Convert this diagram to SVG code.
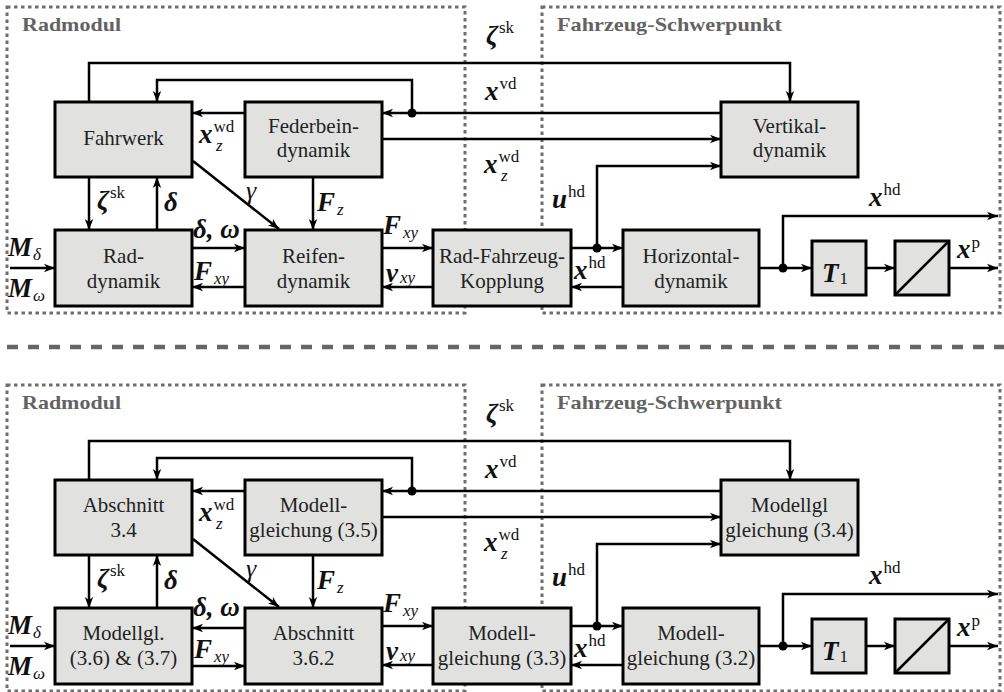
<svg xmlns="http://www.w3.org/2000/svg" width="1004" height="692" viewBox="0 0 1004 692">
<defs>
<marker id="ah" markerUnits="userSpaceOnUse" markerWidth="12" markerHeight="10" refX="11" refY="5" orient="auto">
<path d="M0,0.8 L11,5 L0,9.2 L3,5 z" fill="#000"/>
</marker>
<style>
.frame{fill:none;stroke:#6e6e6e;stroke-width:3;stroke-dasharray:3.5 3.5}
.sep{fill:none;stroke:#666;stroke-width:4.5;stroke-dasharray:11 10}
.title{font-family:'Liberation Serif','DejaVu Serif','Noto Serif',serif;font-weight:bold;font-size:19px;fill:#636363}
.box{fill:#e1e2e0;stroke:#000;stroke-width:3}
.nt{font-family:'Liberation Serif','DejaVu Serif','Noto Serif',serif;font-size:21px;fill:#222;text-anchor:middle}
.c{fill:none;stroke:#000;stroke-width:2.5;marker-end:url(#ah)}
.l{fill:none;stroke:#000;stroke-width:2.5}
.dot{fill:#000}
.m{font-family:'Liberation Serif','DejaVu Serif','Noto Serif',serif;font-style:italic;font-weight:bold;font-size:27px;fill:#111}
.g{font-family:'Liberation Serif','DejaVu Serif','Noto Serif',serif;font-style:italic;font-weight:normal;font-size:26px;fill:#111}
.s{font-family:'Liberation Serif','DejaVu Serif','Noto Serif',serif;font-style:normal;font-weight:normal;font-size:17px;fill:#111}
.si{font-family:'Liberation Serif','DejaVu Serif','Noto Serif',serif;font-style:italic;font-weight:normal;font-size:17px;fill:#111}
</style>
</defs>
<rect width="1004" height="692" fill="#fff"/>

<!-- ===================== TOP HALF ===================== -->
<g id="top">
<rect class="frame" x="7" y="7" width="458" height="306"/>
<rect class="frame" x="542" y="7" width="458" height="306"/>
<text class="title" x="22" y="31" textLength="99" lengthAdjust="spacingAndGlyphs">Radmodul</text>
<text class="title" x="557" y="31" textLength="225" lengthAdjust="spacingAndGlyphs">Fahrzeug-Schwerpunkt</text>

<g id="fahrwerk"><rect class="box" x="55" y="102" width="137" height="75"/><text class="nt" x="123.5" y="145">Fahrwerk</text></g>
<g id="federbein"><rect class="box" x="245" y="102" width="137" height="75"/><text class="nt" x="313.5" y="133">Federbein-</text><text class="nt" x="313.5" y="157">dynamik</text></g>
<g id="raddynamik"><rect class="box" x="55" y="230" width="137" height="76"/><text class="nt" x="123.5" y="263">Rad-</text><text class="nt" x="123.5" y="288">dynamik</text></g>
<g id="reifen"><rect class="box" x="245" y="230" width="137" height="76"/><text class="nt" x="313.5" y="263">Reifen-</text><text class="nt" x="313.5" y="288">dynamik</text></g>
<g id="kopplung"><rect class="box" x="433" y="230" width="138" height="76"/><text class="nt" x="502" y="263">Rad-Fahrzeug-</text><text class="nt" x="502" y="288">Kopplung</text></g>
<g id="vertikal"><rect class="box" x="721" y="102" width="137" height="75"/><text class="nt" x="789.5" y="133">Vertikal-</text><text class="nt" x="789.5" y="157">dynamik</text></g>
<g id="horizontal"><rect class="box" x="623" y="230" width="136" height="76"/><text class="nt" x="691" y="263">Horizontal-</text><text class="nt" x="691" y="288">dynamik</text></g>
<g id="t1"><rect class="box" x="812" y="241" width="54" height="54"/><text class="m" x="822" y="282" font-size="33">T<tspan class="s" dy="2" dx="1" font-size="18">1</tspan></text></g>
<g id="integrator"><rect class="box" x="895" y="241" width="54" height="54"/><path class="l" d="M895,295 L949,241"/></g>

<g id="connectors-top">
<path class="c" d="M89,102 V63 H790 V102"/>
<path class="c" d="M412,113 V80 H157 V102"/>
<path class="c" d="M721,113 H382"/>
<circle class="dot" cx="412" cy="113" r="4.5"/>
<path class="c" d="M245,113 H192"/>
<path class="c" d="M382,139 H721"/>
<path class="c" d="M597,248 V166 H721"/>
<path class="c" d="M571,248 H623"/>
<circle class="dot" cx="597" cy="248" r="4.5"/>
<path class="c" d="M623,287 H571"/>
<path class="c" d="M759,268 H812"/>
<circle class="dot" cx="783" cy="268" r="4.5"/>
<path class="c" d="M783,268 V216 H998"/>
<path class="c" d="M866,268 H895"/>
<path class="c" d="M949,268 H998"/>
<path class="c" d="M89,177 V230"/>
<path class="c" d="M157,230 V177"/>
<path class="c" d="M193,161 L279,229"/>
<path class="c" d="M313,177 V230"/>
<path class="c" d="M192,248 H245"/>
<path class="c" d="M245,287 H192"/>
<path class="c" d="M382,248 H433"/>
<path class="c" d="M433,287 H382"/>
<path class="c" d="M10,268 H55"/>
</g>

<g id="labels-top">
<text class="m" x="486" y="44">ζ<tspan class="s" dy="-11" dx="1">sk</tspan></text>
<text class="m" x="485" y="100">x<tspan class="s" dy="-11" dx="1">vd</tspan></text>
<text class="m" x="484" y="173">x<tspan class="s" dy="-11" dx="1">wd</tspan></text><text class="si" x="501" y="181">z</text>
<text class="m" x="199" y="143">x<tspan class="s" dy="-11" dx="1">wd</tspan></text><text class="si" x="216" y="151">z</text>
<text class="m" x="97" y="209">ζ<tspan class="s" dy="-11" dx="1">sk</tspan></text>
<text class="m" x="164" y="211">δ</text>
<text class="g" x="246" y="199">γ</text>
<text class="m" x="317" y="211">F<tspan class="si" dy="4" dx="2">z</tspan></text>
<text class="m" x="193" y="238">δ, ω</text>
<text class="m" x="194" y="280">F<tspan class="si" dy="4" dx="2">xy</tspan></text>
<text class="m" x="383" y="234">F<tspan class="si" dy="4" dx="2">xy</tspan></text>
<text class="m" x="386" y="282">v<tspan class="si" dy="1" dx="2">xy</tspan></text>
<text class="m" x="8" y="256" font-size="30">M<tspan class="si" dy="4" dx="1" font-size="18">δ</tspan></text>
<text class="m" x="8" y="297" font-size="30">M<tspan class="si" dy="4" dx="1" font-size="18">ω</tspan></text>
<text class="m" x="574" y="279">x<tspan class="s" dy="-11" dx="1">hd</tspan></text>
<text class="m" x="552" y="208">u<tspan class="s" dy="-11" dx="1">hd</tspan></text>
<text class="m" x="869" y="206">x<tspan class="s" dy="-11" dx="1">hd</tspan></text>
<text class="m" x="957" y="258">x<tspan class="s" dy="-10" dx="1">p</tspan></text>
</g>
</g>

<!-- separator -->
<path class="sep" d="M7,347 H1004"/>

<!-- ===================== BOTTOM HALF ===================== -->
<g id="bottom" transform="translate(0,378)">
<rect class="frame" x="7" y="7" width="458" height="306"/>
<rect class="frame" x="542" y="7" width="458" height="306"/>
<text class="title" x="22" y="31" textLength="99" lengthAdjust="spacingAndGlyphs">Radmodul</text>
<text class="title" x="557" y="31" textLength="225" lengthAdjust="spacingAndGlyphs">Fahrzeug-Schwerpunkt</text>

<g id="abschnitt34"><rect class="box" x="55" y="102" width="137" height="75"/><text class="nt" x="123.5" y="134">Abschnitt</text><text class="nt" x="123.5" y="159">3.4</text></g>
<g id="modell35"><rect class="box" x="245" y="102" width="137" height="75"/><text class="nt" x="313.5" y="134">Modell-</text><text class="nt" x="313.5" y="159">gleichung (3.5)</text></g>
<g id="modell36"><rect class="box" x="55" y="230" width="137" height="76"/><text class="nt" x="123.5" y="262">Modellgl.</text><text class="nt" x="123.5" y="287">(3.6) &amp; (3.7)</text></g>
<g id="abschnitt362"><rect class="box" x="245" y="230" width="137" height="76"/><text class="nt" x="313.5" y="262">Abschnitt</text><text class="nt" x="313.5" y="287">3.6.2</text></g>
<g id="modell33"><rect class="box" x="433" y="230" width="138" height="76"/><text class="nt" x="502" y="262">Modell-</text><text class="nt" x="502" y="287">gleichung (3.3)</text></g>
<g id="modell34"><rect class="box" x="721" y="102" width="137" height="75"/><text class="nt" x="789.5" y="134">Modellgl</text><text class="nt" x="789.5" y="159">gleichung (3.4)</text></g>
<g id="modell32"><rect class="box" x="623" y="230" width="136" height="76"/><text class="nt" x="691" y="262">Modell-</text><text class="nt" x="691" y="287">gleichung (3.2)</text></g>
<g id="t1b"><rect class="box" x="812" y="241" width="54" height="54"/><text class="m" x="822" y="282" font-size="33">T<tspan class="s" dy="2" dx="1" font-size="18">1</tspan></text></g>
<g id="integratorb"><rect class="box" x="895" y="241" width="54" height="54"/><path class="l" d="M895,295 L949,241"/></g>

<g id="connectors-bottom">
<path class="c" d="M89,102 V63 H790 V102"/>
<path class="c" d="M412,113 V80 H157 V102"/>
<path class="c" d="M721,113 H382"/>
<circle class="dot" cx="412" cy="113" r="4.5"/>
<path class="c" d="M245,113 H192"/>
<path class="c" d="M382,139 H721"/>
<path class="c" d="M597,248 V166 H721"/>
<path class="c" d="M571,248 H623"/>
<circle class="dot" cx="597" cy="248" r="4.5"/>
<path class="c" d="M623,287 H571"/>
<path class="c" d="M759,268 H812"/>
<circle class="dot" cx="783" cy="268" r="4.5"/>
<path class="c" d="M783,268 V216 H998"/>
<path class="c" d="M866,268 H895"/>
<path class="c" d="M949,268 H998"/>
<path class="c" d="M89,177 V230"/>
<path class="c" d="M157,230 V177"/>
<path class="c" d="M193,161 L279,229"/>
<path class="c" d="M313,177 V230"/>
<path class="c" d="M245,250 H192"/>
<path class="c" d="M192,288 H245"/>
<path class="c" d="M382,248 H433"/>
<path class="c" d="M433,287 H382"/>
<path class="c" d="M10,268 H55"/>
</g>

<g id="labels-bottom">
<text class="m" x="486" y="44">ζ<tspan class="s" dy="-11" dx="1">sk</tspan></text>
<text class="m" x="485" y="100">x<tspan class="s" dy="-11" dx="1">vd</tspan></text>
<text class="m" x="484" y="173">x<tspan class="s" dy="-11" dx="1">wd</tspan></text><text class="si" x="501" y="181">z</text>
<text class="m" x="199" y="143">x<tspan class="s" dy="-11" dx="1">wd</tspan></text><text class="si" x="216" y="151">z</text>
<text class="m" x="97" y="209">ζ<tspan class="s" dy="-11" dx="1">sk</tspan></text>
<text class="m" x="164" y="211">δ</text>
<text class="g" x="246" y="199">γ</text>
<text class="m" x="317" y="211">F<tspan class="si" dy="4" dx="2">z</tspan></text>
<text class="m" x="193" y="238">δ, ω</text>
<text class="m" x="194" y="280">F<tspan class="si" dy="4" dx="2">xy</tspan></text>
<text class="m" x="383" y="234">F<tspan class="si" dy="4" dx="2">xy</tspan></text>
<text class="m" x="386" y="282">v<tspan class="si" dy="1" dx="2">xy</tspan></text>
<text class="m" x="8" y="256" font-size="30">M<tspan class="si" dy="4" dx="1" font-size="18">δ</tspan></text>
<text class="m" x="8" y="297" font-size="30">M<tspan class="si" dy="4" dx="1" font-size="18">ω</tspan></text>
<text class="m" x="574" y="279">x<tspan class="s" dy="-11" dx="1">hd</tspan></text>
<text class="m" x="552" y="208">u<tspan class="s" dy="-11" dx="1">hd</tspan></text>
<text class="m" x="869" y="206">x<tspan class="s" dy="-11" dx="1">hd</tspan></text>
<text class="m" x="957" y="258">x<tspan class="s" dy="-10" dx="1">p</tspan></text>
</g>
</g>
</svg>
